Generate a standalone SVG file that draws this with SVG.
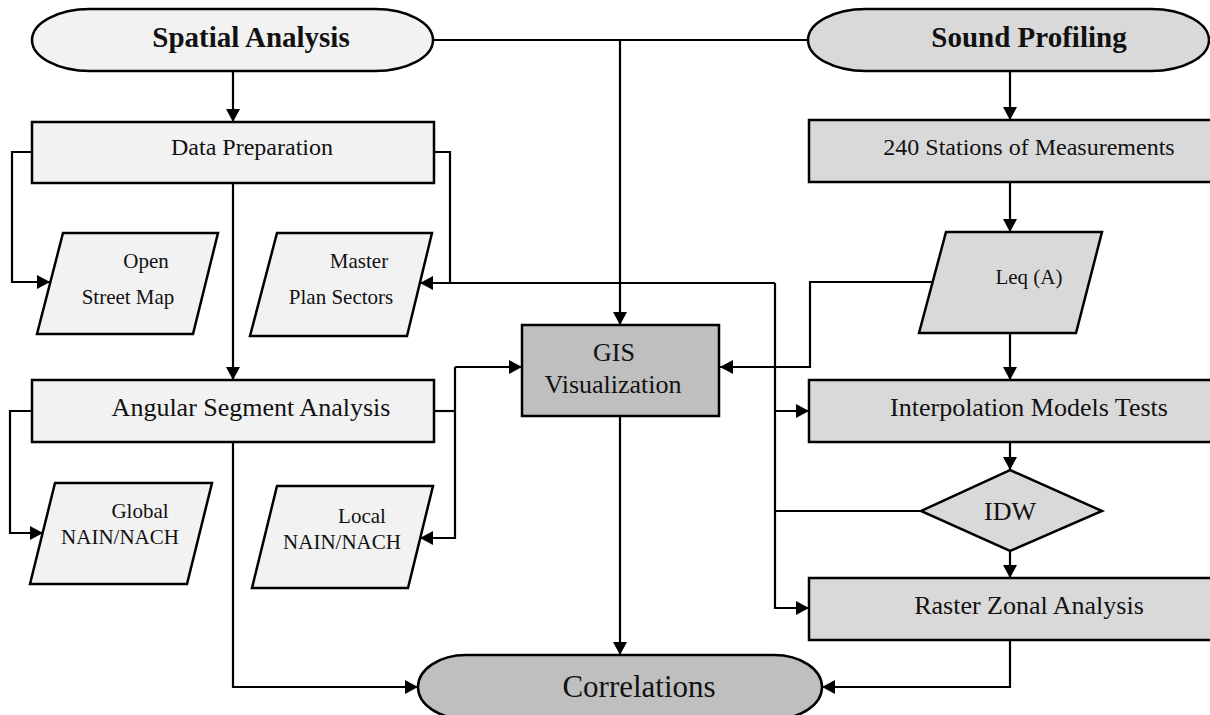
<svg xmlns="http://www.w3.org/2000/svg" width="1210" height="715" viewBox="0 0 1210 715">
  <defs>
    <marker id="arrow" markerUnits="userSpaceOnUse" markerWidth="14" markerHeight="14" refX="13" refY="7" orient="auto">
      <path d="M0,0 L13,7 L0,14 z" fill="#000"/>
    </marker>
    <style>
      .light { fill: #f2f2f2; stroke: #000; stroke-width: 2.5; }
      .mid { fill: #d9d9d9; stroke: #000; stroke-width: 2.5; }
      .dark { fill: #bfbfbf; stroke: #000; stroke-width: 2.5; }
      .lbl { font-family: "Liberation Serif", "Times New Roman", serif; fill: #111; text-anchor: middle; }
      .title { font-size: 29px; font-weight: bold; }
      .box { font-size: 26px; }
      .med { font-size: 24px; }
      .small { font-size: 21px; }
      .big { font-size: 31px; }
      #connectors path { fill: none; stroke: #000; stroke-width: 2.2; }
      #connectors .arr { marker-end: url(#arrow); }
    </style>
  </defs>

  <rect width="1210" height="715" fill="#fff"/>

  <!-- connectors -->
  <g id="connectors">
    <path d="M433,40 H808"/>
    <path class="arr" d="M620,40 V325"/>
    <path class="arr" d="M233,71 V122"/>
    <path class="arr" d="M1010,71 V120"/>
    <path class="arr" d="M32,152 H12 V282 H50"/>
    <path class="arr" d="M233,183 V380"/>
    <path d="M434,152 H450 V283"/>
    <path class="arr" d="M775,283 H420"/>
    <path class="arr" d="M775,283 V608 H809"/>
    <path class="arr" d="M775,411 H809"/>
    <path d="M921,511 H775"/>
    <path class="arr" d="M1010,182 V232"/>
    <path class="arr" d="M933,282 H810 V367 H720"/>
    <path class="arr" d="M1010,333 V380"/>
    <path class="arr" d="M1010,442 V470"/>
    <path class="arr" d="M1010,551 V578"/>
    <path class="arr" d="M1010,640 V687 H822"/>
    <path class="arr" d="M233,442 V687 H418"/>
    <path class="arr" d="M620,416 V655"/>
    <path class="arr" d="M32,411 H10 V533 H43"/>
    <path d="M434,411 H455"/>
    <path class="arr" d="M455,367 V538 H420"/>
    <path class="arr" d="M455,367 H522"/>
  </g>

  <!-- nodes -->
  <g id="spatial-analysis">
    <rect class="light" x="32" y="9" width="401" height="62" rx="58" ry="31"/>
    <text class="lbl title" x="251" y="47">Spatial Analysis</text>
  </g>

  <g id="sound-profiling">
    <rect class="mid" x="808" y="9" width="401" height="62" rx="58" ry="31"/>
    <text class="lbl title" x="1029" y="47">Sound Profiling</text>
  </g>

  <g id="data-preparation">
    <rect class="light" x="32" y="122" width="402" height="61"/>
    <text class="lbl med" x="252" y="155">Data Preparation</text>
  </g>

  <g id="open-street-map">
    <polygon class="light" points="63,233 218,233 193,334 37,334"/>
    <text class="lbl small" x="146" y="268">Open</text>
    <text class="lbl small" x="128" y="304">Street Map</text>
  </g>

  <g id="master-plan-sectors">
    <polygon class="light" points="277,233 432,233 407,336 250,336"/>
    <text class="lbl small" x="359" y="268">Master</text>
    <text class="lbl small" x="341" y="304">Plan Sectors</text>
  </g>

  <g id="angular-segment-analysis">
    <rect class="light" x="32" y="380" width="402" height="62"/>
    <text class="lbl box" x="251" y="416">Angular Segment Analysis</text>
  </g>

  <g id="global-nain-nach">
    <polygon class="light" points="55,483 212,483 187,584 30,584"/>
    <text class="lbl small" x="140" y="518">Global</text>
    <text class="lbl small" x="120" y="544">NAIN/NACH</text>
  </g>

  <g id="local-nain-nach">
    <polygon class="light" points="277,486 433,486 408,588 252,588"/>
    <text class="lbl small" x="362" y="523">Local</text>
    <text class="lbl small" x="342" y="549">NAIN/NACH</text>
  </g>

  <g id="gis-visualization">
    <rect class="dark" x="522" y="325" width="197" height="91"/>
    <text class="lbl box" x="614" y="361">GIS</text>
    <text class="lbl box" x="613" y="393">Visualization</text>
  </g>

  <g id="stations">
    <rect class="mid" x="809" y="120" width="405" height="62"/>
    <text class="lbl med" x="1029" y="155">240 Stations of Measurements</text>
  </g>

  <g id="leq-a">
    <polygon class="mid" points="946,232 1102,232 1076,333 919,333"/>
    <text class="lbl small" x="1029" y="284">Leq (A)</text>
  </g>

  <g id="interpolation-models-tests">
    <rect class="mid" x="809" y="380" width="405" height="62"/>
    <text class="lbl box" x="1029" y="416">Interpolation Models Tests</text>
  </g>

  <g id="idw">
    <polygon class="mid" points="1010,470 1102,511 1010,551 921,511"/>
    <text class="lbl box" x="1010" y="520">IDW</text>
  </g>

  <g id="raster-zonal-analysis">
    <rect class="mid" x="809" y="578" width="405" height="62"/>
    <text class="lbl box" x="1029" y="614">Raster Zonal Analysis</text>
  </g>

  <g id="correlations">
    <rect class="dark" x="418" y="655" width="404" height="64" rx="48" ry="32"/>
    <text class="lbl big" x="639" y="697">Correlations</text>
  </g>
</svg>
